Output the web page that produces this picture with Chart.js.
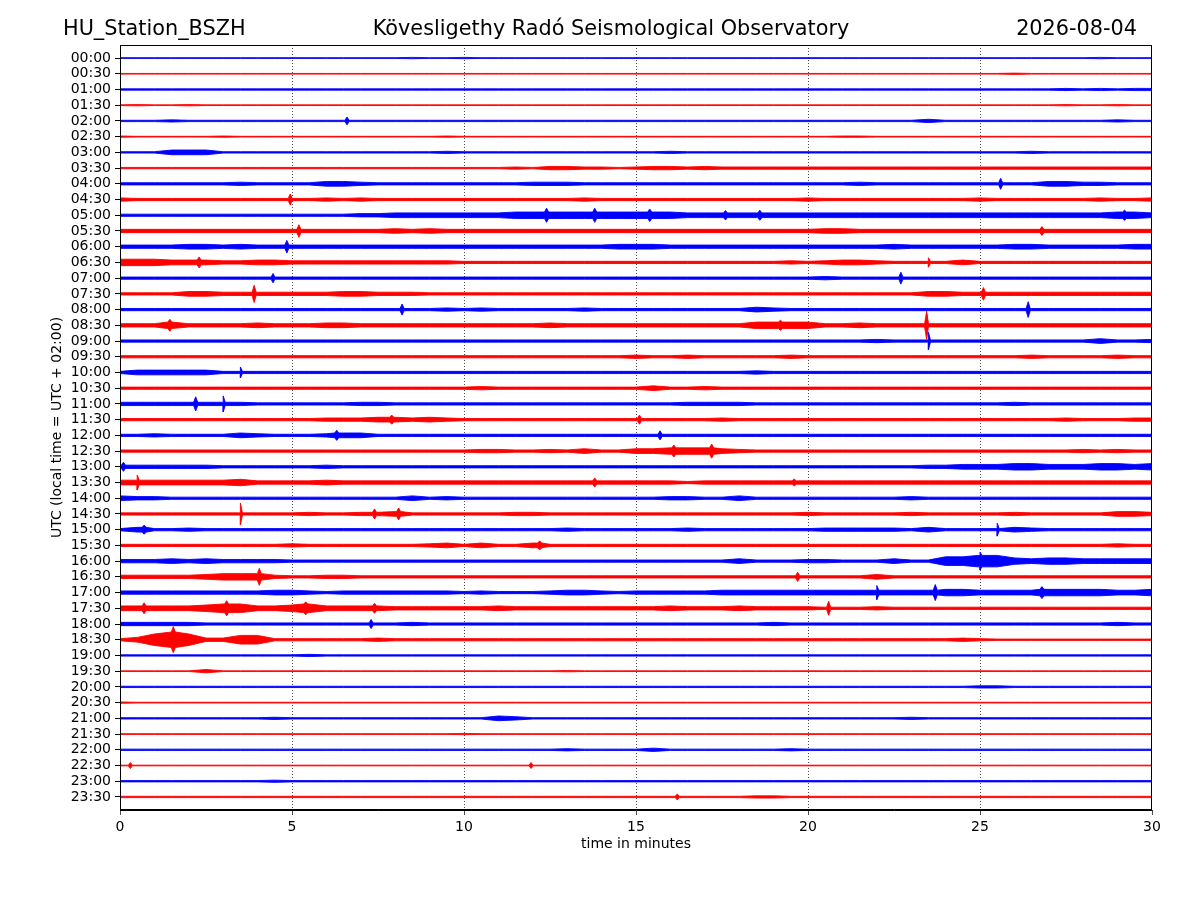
<!DOCTYPE html>
<html>
<head>
<meta charset="utf-8">
<script src="https://cdn.jsdelivr.net/npm/chart.js@4/dist/chart.umd.min.js"></script>
<style>
  body { margin: 0; background: #fff; }
  #wrap { position: relative; width: 1200px; height: 900px; }
  canvas { position: absolute; left: 0; top: 0; }
  .ttl { position: absolute; top: 16px; font: 20.8px 'DejaVu Sans', sans-serif; line-height: 24px; color: #000; white-space: nowrap; }
</style>
</head>
<body>
<div id="wrap">
  <canvas id="heli" width="1200" height="900"></canvas>
  <div class="ttl" id="tLeft" style="left:63px">HU_Station_BSZH</div>
  <div class="ttl" id="tMid" style="left:611px; transform:translateX(-50%)">Kövesligethy Radó Seismological Observatory</div>
  <div class="ttl" id="tRight" style="right:63px">2026-08-04</div>
</div>
<script>
// Helicorder: one trace per half hour, 30 minutes across
const times = [
  '00:00', '00:30', '01:00', '01:30', '02:00', '02:30', '03:00', '03:30',
  '04:00', '04:30', '05:00', '05:30', '06:00', '06:30', '07:00', '07:30',
  '08:00', '08:30', '09:00', '09:30', '10:00', '10:30', '11:00', '11:30',
  '12:00', '12:30', '13:00', '13:30', '14:00', '14:30', '15:00', '15:30',
  '16:00', '16:30', '17:00', '17:30', '18:00', '18:30', '19:00', '19:30',
  '20:00', '20:30', '21:00', '21:30', '22:00', '22:30', '23:00', '23:30'
];
const minuteTicks = [0, 5, 10, 15, 20, 25, 30];
const traceColors = ['#0000ff', '#ff0000'];

// envelope half-amplitude (in trace spacings) for each level digit
const levelAmp = [0.022, 0.042, 0.07, 0.105, 0.15, 0.205, 0.275, 0.365, 0.49, 0.65];

// envelope level read every half minute, 0..30 min (groups of 5 minutes)
const envelope = [
  '0000000000 0000000100 1000000000 0000000000 0000000000 0000000100 0', // 00:00
  '0000000000 0000000000 0000000000 0000000000 0000000000 0010000000 0', // 00:30
  '1111111111 1111111111 1111111111 1111111111 1111111111 1111121212 2', // 01:00
  '0100100000 0000000000 0000000000 0000000000 0000000000 0000010010 0', // 01:30
  '1112111111 1111111111 1111111111 1111111111 1111111311 1111111121 1', // 02:00
  '1000001000 0000000001 0000000000 0000000000 0011000000 0000000000 0', // 02:30
  '1114441111 1111111112 1111111111 1121111111 1111111111 1112111111 1', // 03:00
  '1111111111 1111111111 1112133221 2332322222 2222222222 2222222222 2', // 03:30
  '2222222322 2244322222 2222333222 2222222222 2223222222 2222443322 2', // 04:00
  '3222222222 2232322222 2222222322 2222222222 3222222222 3222222322 3', // 04:30
  '2222222222 2222334444 4445555555 5554444444 4444444444 4444444455 4', // 05:00
  '3333333333 3333334343 3333333333 3333333333 3443333333 3333333333 3', // 05:30
  '3333443433 3333333333 3333333334 4433333333 3333343333 3344333334 4', // 06:00
  '5554443344 3333333333 2222222222 2222222223 2344322224 2222222222 2', // 06:30
  '2222222222 2222222222 2222222222 2222222222 2322222222 2222222222 2', // 07:00
  '2222443333 3334433322 2222222222 2222222222 2222222443 3333333333 3', // 07:30
  '2222222222 2222222223 2322222322 2222222432 2222222222 2222222222 2', // 08:00
  '3335333343 3344333333 3333343333 3333333555 5334333333 3333333333 3', // 08:30
  '2222222222 2222222222 2222222222 2222222222 2222322222 2222222422 3', // 09:00
  '2222222222 2222222222 2222222222 3223222223 2222222222 2223222232 2', // 09:30
  '2444442222 2222222222 2222222222 2222222322 2222222222 2222222222 2', // 10:00
  '2222222222 2222222222 2322222222 2422322222 2222222222 2222222222 2', // 10:30
  '3333333322 2222332222 2222222222 2223333222 2222222222 2232222222 2', // 11:00
  '2222222222 2233344343 2222222222 2222232222 2222222222 2222232223 3', // 11:30
  '2232222432 2234422222 2222222222 2222222222 2222222222 2222222222 2', // 12:00
  '2222222222 2222222222 2332232422 4455543222 2222222222 2222223232 2', // 12:30
  '3333332222 2232222222 2222222222 2222222222 2222222334 4455444554 5', // 13:00
  '4444444533 3343333333 3333333333 3332333333 3333333333 3333333333 3', // 13:30
  '4332222222 2222222423 2222222222 2233224222 2222223222 2222222222 2', // 14:00
  '2222222222 2322334222 2223322222 2222222222 3222223222 2232222244 3', // 14:30
  '2422322222 2222222222 2222223222 2223222222 2333332422 2243222222 2', // 15:00
  '2222222222 3222222234 2422422222 2222222222 2222222222 2222222232 2', // 15:30
  '3334343333 2222222222 2222222222 2222224222 3322242266 7754554444 4', // 16:00
  '3333345553 2233222222 2222222222 2222222222 2222422222 2222222222 2', // 16:30
  '3333333334 4323333333 2322234432 3333344444 4444444455 4444555544 5', // 17:00
  '4444456644 5644443333 3343333333 3343334333 3222322222 2222222222 2', // 17:30
  '3333322222 2222222322 2222222222 2222222232 2222222222 2222222232 2', // 18:00
  '2478733662 2222232222 2222222222 2222222222 2222222223 2111111111 1', // 18:30
  '1111111111 1211111111 1111111111 1111111111 1111111111 1111111111 1', // 19:00
  '0000030000 0000000000 0000001000 0000000000 0000000000 0000000000 0', // 19:30
  '1111111111 1111111111 1111111111 1111111111 1111111111 2211111111 1', // 20:00
  '1000000000 0000000000 0000000000 0000000000 0000000000 0000000000 0', // 20:30
  '1111111112 1111111111 1143111111 1111111111 1111112111 1111111111 1', // 21:00
  '0000000000 0000000000 1000000000 0000000000 0000000000 0000000000 0', // 21:30
  '1111111111 1111111111 1111112111 1311111112 1111111111 1111111111 1', // 22:00
  '0000000000 0000000000 0000000000 0000000000 0000000000 0000000000 0', // 22:30
  '1111111112 1111111111 1111111111 1111111111 1111111111 1111111111 1', // 23:00
  '1111111111 1111111111 1111111111 1111111221 1111111111 1111111111 1'  // 23:30
];

// single sharp arrivals: [trace, minute, half-amplitude in trace spacings]
const spikes = [
  [4, 6.6, 0.25],
  [8, 25.6, 0.35],
  [9, 4.95, 0.35],
  [10, 12.4, 0.45], [10, 13.8, 0.45], [10, 15.4, 0.4], [10, 17.6, 0.3], [10, 18.6, 0.32], [10, 29.2, 0.32],
  [11, 5.2, 0.4], [11, 26.8, 0.28],
  [12, 4.85, 0.4],
  [13, 2.3, 0.35], [13, 23.5, 0.3],
  [14, 4.45, 0.3], [14, 22.7, 0.38],
  [15, 3.9, 0.55], [15, 25.1, 0.4],
  [16, 8.2, 0.35], [16, 26.4, 0.5],
  [17, 1.45, 0.38], [17, 19.2, 0.32], [17, 23.45, 0.9],
  [18, 23.5, 0.57],
  [20, 3.5, 0.35],
  [22, 2.2, 0.45], [22, 3.0, 0.51],
  [23, 7.9, 0.29], [23, 15.1, 0.29],
  [24, 6.3, 0.32], [24, 15.7, 0.29],
  [25, 16.1, 0.38], [25, 17.2, 0.45],
  [26, 0.1, 0.29],
  [27, 0.5, 0.48], [27, 13.8, 0.29], [27, 19.6, 0.22],
  [29, 3.5, 0.7], [29, 7.4, 0.32], [29, 8.1, 0.38],
  [30, 0.7, 0.29], [30, 25.5, 0.41],
  [31, 12.2, 0.29],
  [32, 25.0, 0.57],
  [33, 4.05, 0.54], [33, 19.7, 0.29],
  [34, 22.0, 0.45], [34, 23.7, 0.51], [34, 26.8, 0.38],
  [35, 0.7, 0.35], [35, 3.1, 0.48], [35, 5.4, 0.41], [35, 7.4, 0.32], [35, 20.6, 0.45],
  [36, 7.3, 0.29],
  [37, 1.55, 0.83],
  [45, 0.3, 0.19], [45, 11.95, 0.19],
  [47, 16.2, 0.19]
];

// build the band for one trace: envelope points plus narrow spindles
function tracePoints(row) {
  const lv = envelope[row].replace(/ /g, '');
  const step = 30 / (lv.length - 1);
  const pts = [];
  for (let i = 0; i < lv.length; i++) {
    pts.push({ x: i * step, a: levelAmp[+lv[i]] });
  }
  spikes.filter(s => s[0] === row).forEach(s => {
    const base = levelAmp[+lv[Math.round(s[1] / step)]];
    pts.push({ x: s[1] - 0.06, a: base }, { x: s[1], a: s[2] }, { x: s[1] + 0.06, a: base });
  });
  pts.sort((p, q) => p.x - q.x);
  return pts;
}

const datasets = [];
times.forEach((t, row) => {
  const pts = tracePoints(row);
  const color = traceColors[row % 2];
  const common = { borderColor: color, backgroundColor: color, borderWidth: 0.9, pointRadius: 0, tension: 0 };
  datasets.push(Object.assign({ label: t, data: pts.map(p => ({ x: p.x, y: row - p.a })), fill: false }, common));
  datasets.push(Object.assign({ label: t + ' ', data: pts.map(p => ({ x: p.x, y: row + p.a })), fill: '-1' }, common));
});

// box round the plot area
const frame = {
  id: 'frame',
  afterDraw(chart) {
    const a = chart.chartArea, ctx = chart.ctx;
    ctx.save();
    ctx.strokeStyle = '#000';
    ctx.lineWidth = 1;
    ctx.strokeRect(a.left + 0.5, a.top + 0.5, a.right - a.left - 1, a.bottom - a.top - 1);
    ctx.restore();
  }
};

Chart.defaults.font.family = "'DejaVu Sans', sans-serif";
Chart.defaults.color = '#000';

new Chart(document.getElementById('heli'), {
  type: 'line',
  data: { datasets },
  plugins: [frame],
  options: {
    responsive: false,
    animation: false,
    devicePixelRatio: 1,
    layout: { padding: { top: 45, right: 48, bottom: 45, left: 40 } },
    plugins: { legend: { display: false }, tooltip: { enabled: false } },
    scales: {
      x: {
        type: 'linear',
        min: 0,
        max: 30,
        afterFit: s => { s.height = 45; },
        afterBuildTicks: s => { s.ticks = minuteTicks.map(v => ({ value: v })); },
        ticks: { font: { size: 14 }, padding: 4, autoSkip: false, maxRotation: 0 },
        grid: {
          color: c => (c.tick && (c.tick.value === 0 || c.tick.value === 30)) ? 'rgba(0,0,0,0)' : '#000',
          lineWidth: 0.7,
          tickColor: '#000',
          tickLength: 5
        },
        border: { color: '#000', width: 1, dash: [1, 2] },
        title: { display: true, text: 'time in minutes', font: { size: 14 }, padding: { top: 0, bottom: 2 } }
      },
      y: {
        type: 'linear',
        reverse: true,
        min: -0.83,
        max: 47.83,
        afterFit: s => { s.width = 80; },
        afterBuildTicks: s => { s.ticks = times.map((t, i) => ({ value: i })); },
        ticks: { font: { size: 14 }, padding: 4, autoSkip: false, callback: v => times[v] },
        grid: { drawOnChartArea: false, tickColor: '#000', tickLength: 5 },
        border: { color: '#000', width: 1 },
        title: { display: true, text: 'UTC (local time = UTC + 02:00)', font: { size: 14 }, padding: { top: 9, bottom: 0 } }
      }
    }
  }
});
</script>
</body>
</html>
